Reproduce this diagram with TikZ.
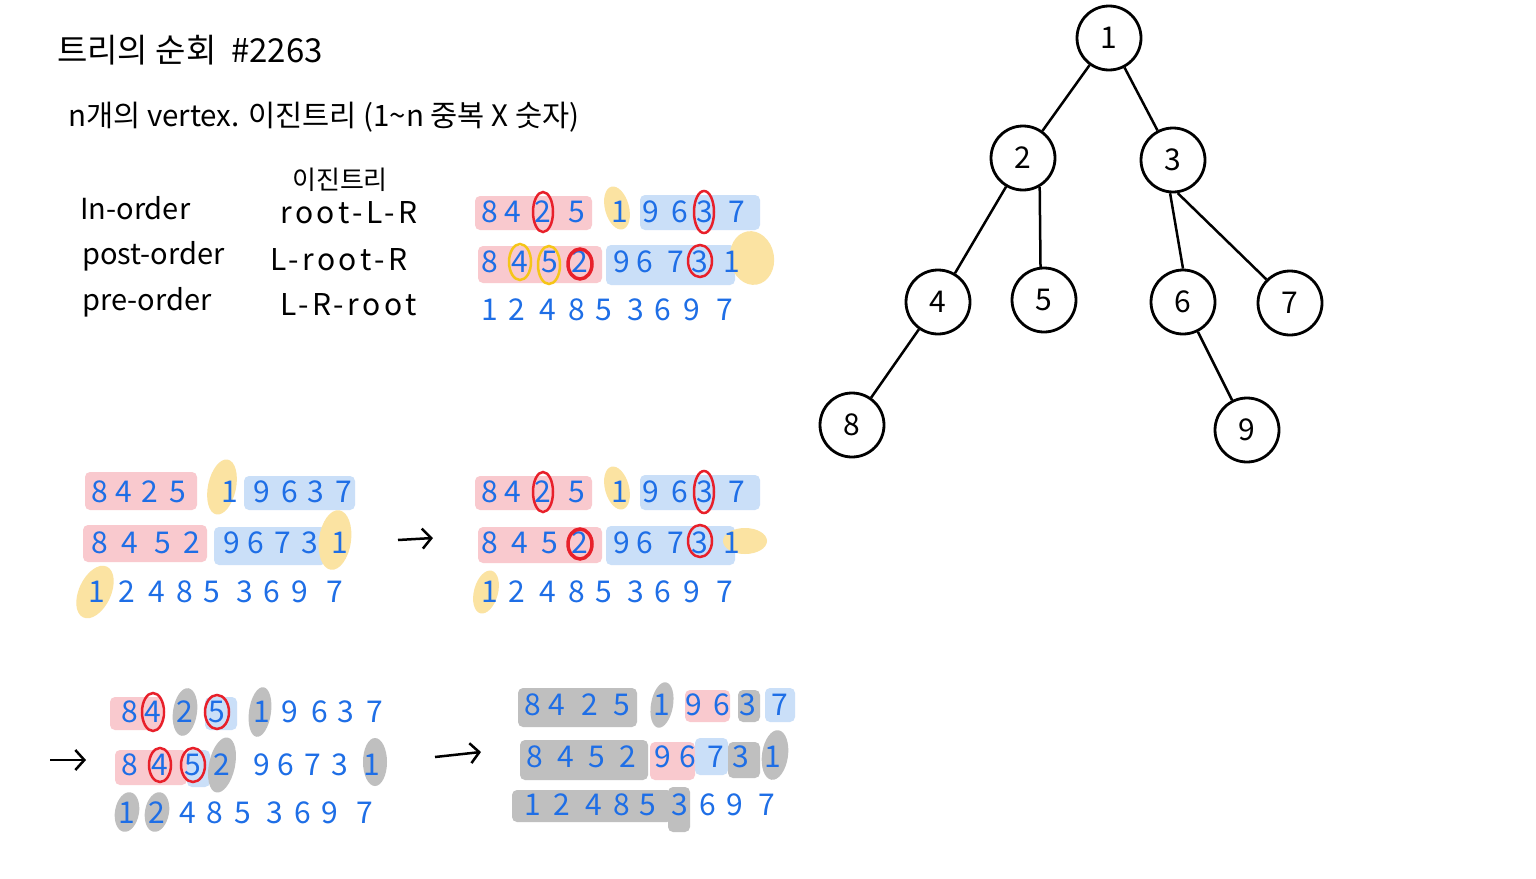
\documentclass[tikz,border=0pt]{standalone}
\usepackage{fontspec}
\setmainfont{Noto Sans CJK KR}
\usetikzlibrary{arrows.meta}
\definecolor{numblue}{HTML}{1E6EE6}
\definecolor{hlpink}{HTML}{F9C9CE}
\definecolor{hlblue}{HTML}{CADFF8}
\definecolor{hlyellow}{HTML}{FBE3A2}
\definecolor{hlgray}{HTML}{BFBFBF}
\definecolor{ringred}{HTML}{E8202A}
\definecolor{ringyellow}{HTML}{F5C518}
\tikzset{
  dig/.style={text=numblue, font=\fontsize{30}{30}\selectfont, inner sep=0pt},
  pinkhl/.style={fill=hlpink, rounded corners=5pt},
  bluehl/.style={fill=hlblue, rounded corners=5pt},
  yelhl/.style={fill=hlyellow},
  grayhl/.style={fill=hlgray, rounded corners=5pt},
  redring/.style={draw=ringred, line width=2.5pt},
  yelring/.style={draw=ringyellow, line width=2.5pt},
  tnode/.style={circle, draw, line width=2.8pt, minimum size=64pt, inner sep=0pt, font=\fontsize{30}{30}\selectfont},
  tedge/.style={line width=2.5pt},
  hand/.style={font=\fontsize{29}{29}\selectfont, anchor=west, inner sep=0pt},
  handwide/.style={font=\fontsize{30}{30}\selectfont\addfontfeature{LetterSpace=12}, anchor=west, inner sep=0pt},
  arr/.style={line width=2.5pt, -{Straight Barb[length=9pt,width=20pt]}}
}
\newcommand\digrow[3]{\foreach \px/\dd [count=\i] in {#3} {\node[dig] (#1-\i) at (\px,#2) {\dd};}}
\begin{document}
\begin{tikzpicture}[x=1pt,y=-1pt]
\fill[white] (0,0) rectangle (1536,878);
\useasboundingbox (0,0) rectangle (1536,878);

% ---------- headings ----------
\node[hand, font=\fontsize{33}{33}\selectfont] (title) at (57,50) {트리의 순회 \ \#2263};
\node[hand, font=\fontsize{29.5}{29.5}\selectfont] (intro) at (68,117) {n개의 vertex. 이진트리 (1\textasciitilde n 중복 X 숫자)};
\node[hand] (lin) at (80,208) {In-order};
\node[hand] (lpost) at (82,256) {post-order};
\node[hand] (lpre) at (82,302) {pre-order};
\node[font=\fontsize{26}{26}\selectfont, inner sep=0pt] (lbin) at (340,180) {이진트리};
\node[handwide] (rin) at (280,213) {root-L-R};
\node[handwide] (rpost) at (270,260) {L-root-R};
\node[handwide] (rpre) at (280,305) {L-R-root};

% ---------- top group ----------
\fill[pinkhl] (475,196) rectangle (592,230);
\fill[yelhl, rotate around={15:(617,208)}] (617,208) ellipse (12 and 22);
\fill[bluehl] (640,195) rectangle (760,230);
\fill[pinkhl] (478,246) rectangle (602,283);
\fill[bluehl] (606,245) rectangle (735,285);
\fill[yelhl, rotate around={10:(752,258)}] (752,258) ellipse (22 and 27);
\digrow{ta}{212}{490/8,513/4,543/2,577/5,620/1,651/9,680/6,705/3,737/7}
\digrow{tb}{262}{490/8,520/4,550/5,580/2,622/9,645/6,676/7,700/3,732/1}
\digrow{tc}{310}{490/1,517/2,548/4,577/8,604/5,636/3,663/6,692/9,725/7}
\draw[redring] (543,212) ellipse (10 and 20);
\draw[redring] (704,212) ellipse (10 and 21);
\draw[yelring] (520,262) ellipse (11 and 18);
\draw[yelring] (549,265) ellipse (11 and 19);
\draw[redring, line width=3.5pt] (580,264) ellipse (12 and 15);
\draw[redring] (700,261) ellipse (12 and 16);

% ---------- middle left ----------
\fill[pinkhl] (85,472) rectangle (197,510);
\fill[yelhl, rotate around={-12:(222,487)}] (222,487) ellipse (14 and 28);
\fill[bluehl] (244,476) rectangle (355,510);
\fill[pinkhl] (83,525) rectangle (207,562);
\fill[bluehl] (214,527) rectangle (326,565);
\fill[yelhl, rotate around={-8:(335,540)}] (335,540) ellipse (16 and 30);
\fill[yelhl, rotate around={-25:(95,592)}] (95,592) ellipse (16 and 28);
\digrow{ma}{492}{100/8,124/4,150/2,178/5,230/1,262/9,290/6,316/3,344/7}
\digrow{mb}{543}{100/8,130/4,163/5,192/2,232/9,256/6,283/7,310/3,340/1}
\digrow{mc}{592}{97/1,127/2,157/4,185/8,212/5,245/3,272/6,300/9,335/7}

\coordinate (a1s) at (398,540);
\coordinate (a1e) at (433,538);
\draw[arr] (a1s) -- (a1e);

% ---------- middle right ----------
\fill[pinkhl] (475,476) rectangle (592,510);
\fill[yelhl, rotate around={15:(617,488)}] (617,488) ellipse (12 and 22);
\fill[bluehl] (640,475) rectangle (760,510);
\fill[pinkhl] (478,527) rectangle (602,563);
\fill[bluehl] (606,526) rectangle (735,565);
\fill[yelhl] (745,541) ellipse (22 and 13);
\fill[yelhl, rotate around={-15:(486,592)}] (486,592) ellipse (12 and 22);
\digrow{na}{492}{490/8,513/4,543/2,577/5,620/1,651/9,680/6,705/3,737/7}
\digrow{nb}{543}{490/8,520/4,550/5,580/2,622/9,645/6,676/7,700/3,732/1}
\digrow{nc}{592}{490/1,517/2,548/4,577/8,604/5,636/3,663/6,692/9,725/7}
\draw[redring] (543,492) ellipse (10 and 20);
\draw[redring] (704,492) ellipse (10 and 21);
\draw[redring, line width=3.5pt] (580,544) ellipse (12 and 15);
\draw[redring] (700,541) ellipse (12 and 16);

% ---------- bottom left ----------
\coordinate (a2s) at (50,760);
\coordinate (a2e) at (86,760);
\draw[arr] (a2s) -- (a2e);
\fill[pinkhl] (110,697) rectangle (162,730);
\fill[grayhl, rotate around={-8:(185,712)}] (185,712) ellipse (12 and 24);
\fill[bluehl] (205,697) rectangle (237,730);
\fill[grayhl, rotate around={-8:(260,712)}] (260,712) ellipse (11 and 25);
\fill[pinkhl] (115,750) rectangle (187,785);
\fill[bluehl] (187,750) rectangle (210,787);
\fill[grayhl, rotate around={-12:(222,765)}] (222,765) ellipse (13 and 28);
\fill[grayhl] (375,762) ellipse (12 and 24);
\fill[grayhl, rotate around={-10:(127,812)}] (127,812) ellipse (12 and 20);
\fill[grayhl, rotate around={-10:(157,812)}] (157,812) ellipse (12 and 20);
\digrow{ba}{712}{130/8,153/4,185/2,217/5,262/1,290/9,320/6,346/3,375/7}
\digrow{bb}{765}{130/8,160/4,193/5,222/2,262/9,286/6,313/7,340/3,372/1}
\digrow{bc}{813}{127/1,157/2,188/4,215/8,243/5,275/3,303/6,330/9,365/7}
\draw[redring] (153,712) ellipse (11 and 19);
\draw[redring] (217,712) ellipse (12 and 17);
\draw[redring] (160,765) ellipse (11 and 17);
\draw[redring] (193,765) ellipse (12 and 17);

\coordinate (a3s) at (435,757);
\coordinate (a3e) at (481,752);
\draw[arr] (a3s) -- (a3e);

% ---------- bottom right ----------
\fill[grayhl] (518,688) rectangle (637,727);
\fill[grayhl, rotate around={-10:(662,705)}] (662,705) ellipse (11 and 23);
\fill[pinkhl] (685,690) rectangle (730,722);
\fill[grayhl] (738,690) rectangle (760,722);
\fill[bluehl] (765,688) rectangle (795,722);
\fill[grayhl] (520,740) rectangle (648,780);
\fill[pinkhl] (650,742) rectangle (695,780);
\fill[bluehl] (695,738) rectangle (728,775);
\fill[grayhl] (728,742) rectangle (760,778);
\fill[grayhl, rotate around={-8:(775,755)}] (775,755) ellipse (13 and 25);
\fill[grayhl] (512,790) rectangle (672,822);
\fill[grayhl] (668,787) rectangle (690,832);
\digrow{ca}{705}{533/8,557/4,590/2,622/5,662/1,694/9,722/6,748/3,780/7}
\digrow{cb}{757}{535/8,566/4,597/5,628/2,663/9,688/6,716/7,741/3,773/1}
\digrow{cc}{805}{533/1,562/2,594/4,622/8,648/5,680/3,708/6,735/9,767/7}

% ---------- tree ----------
\node[tnode] (t1) at (1109,38) {1};
\node[tnode] (t2) at (1023,158) {2};
\node[tnode] (t3) at (1173,160) {3};
\node[tnode] (t4) at (938,302) {4};
\node[tnode] (t5) at (1044,300) {5};
\node[tnode] (t6) at (1183,302) {6};
\node[tnode] (t7) at (1290,303) {7};
\node[tnode] (t8) at (852,425) {8};
\node[tnode] (t9) at (1247,430) {9};
\draw[tedge] (t1) -- (t2);
\draw[tedge] (t1) -- (t3);
\draw[tedge] (t2) -- (t4);
\draw[tedge] (t2.-60) -- (t5.96);
\draw[tedge] (t3.-95) -- (t6.north);
\draw[tedge] (t3.-82) -- (t7.135);
\draw[tedge] (t4) -- (t8);
\draw[tedge] (t6) -- (t9);
\end{tikzpicture}
\end{document}
